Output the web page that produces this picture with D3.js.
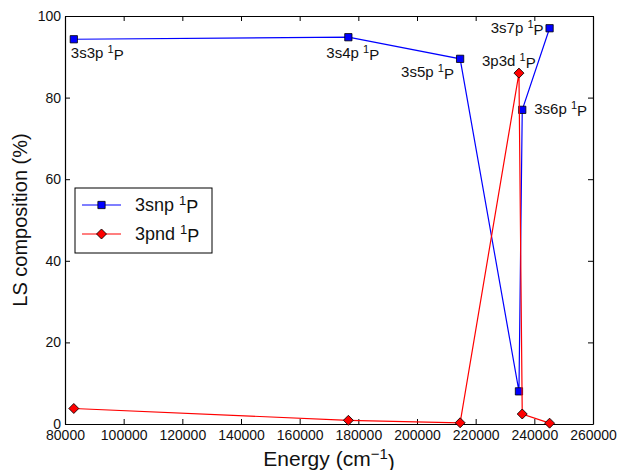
<!DOCTYPE html>
<html>
<head>
<meta charset="utf-8">
<script src="https://cdn.jsdelivr.net/npm/d3@7"></script>
<style>
  body { margin: 0; background: #fff; }
  svg { font-family: "Liberation Sans", Arial, Helvetica, sans-serif; }
</style>
</head>
<body>
<div id="chart"></div>
<script>
// energies of the levels (cm-1)
var energies = [83000, 176600, 214700, 234760, 235880, 245200];
// LS composition (%) of each series
var snpValues = [94.3, 94.8, 89.5, 8.0, 77.0, 97.0];
var pndValues = [3.8, 0.9, 0.3, 86.0, 2.45, 0.2];
// level labels: [series, index, main text]
var levelLabels = [
    ["snp", 0, "3s3p"], ["snp", 1, "3s4p"], ["snp", 2, "3s5p"],
    ["pnd", 3, "3p3d"], ["snp", 4, "3s6p"], ["snp", 5, "3s7p"]
];
var xTicks = [80000, 100000, 120000, 140000, 160000, 180000, 200000, 220000, 240000, 260000];
var yTicks = [0, 20, 40, 60, 80, 100];
var seriesNames = ["3snp", "3pnd"];

// label offsets from their marker (px), kept apart from the data
var labelOffsets = [[-3, 19, "start"], [-22, 21, "start"], [-59, 18, "start"],
                    [-37, -7, "start"], [12, 4, "start"], [-6, 5, "end"]];

var width = 617, height = 470;
var plot = { left: 65, right: 593, top: 16, bottom: 424 };

var svg = d3.select("#chart").append("svg")
    .attr("width", width)
    .attr("height", height);

var x = d3.scaleLinear().domain([80000, 260000]).range([plot.left, plot.right]);
var y = d3.scaleLinear().domain([0, 100]).range([plot.bottom, plot.top]);

// axes, ticks pointing inward on all four sides
function styleAxis(g) {
    g.selectAll("path").attr("stroke", "#000").attr("stroke-width", 1.2);
    g.selectAll("line").attr("stroke", "#000").attr("stroke-width", 1);
    g.selectAll("text").attr("fill", "#111").style("font-size", "14px");
}

svg.append("g")
    .attr("transform", "translate(0," + plot.bottom + ")")
    .call(d3.axisBottom(x).tickValues(xTicks).tickSize(-5).tickPadding(6).tickSizeOuter(0).tickFormat(d3.format("d")))
    .call(styleAxis);

svg.append("g")
    .attr("transform", "translate(0," + plot.top + ")")
    .call(d3.axisTop(x).tickValues(xTicks).tickSize(-5).tickSizeOuter(0).tickFormat(""))
    .call(styleAxis);

svg.append("g")
    .attr("transform", "translate(" + plot.left + ",0)")
    .call(d3.axisLeft(y).tickValues(yTicks).tickSize(-5).tickPadding(4).tickSizeOuter(0))
    .call(styleAxis);

svg.append("g")
    .attr("transform", "translate(" + plot.right + ",0)")
    .call(d3.axisRight(y).tickValues(yTicks).tickSize(-5).tickSizeOuter(0).tickFormat(""))
    .call(styleAxis);

// axis titles
var xTitle = svg.append("text")
    .attr("x", (plot.left + plot.right) / 2)
    .attr("y", 466)
    .attr("text-anchor", "middle")
    .style("font-size", "21px")
    .attr("fill", "#111");
xTitle.append("tspan").text("Energy (cm");
xTitle.append("tspan").attr("dy", "-0.45em").style("font-size", "15px").text("\u22121");
xTitle.append("tspan").attr("dy", "0.45em").text(")");

svg.append("text")
    .attr("transform", "translate(27," + ((plot.top + plot.bottom) / 2) + ") rotate(-90)")
    .attr("text-anchor", "middle")
    .style("font-size", "20px")
    .attr("fill", "#111")
    .text("LS composition (%)");

// series data; diamonds are squares turned by 45 degrees
var series = [
    { key: "snp", values: snpValues, color: "#0000ff", size: 53, rot: 0 },
    { key: "pnd", values: pndValues, color: "#ff0000", size: 50, rot: 45 }
];

var line = d3.line()
    .x(function(d) { return x(d[0]); })
    .y(function(d) { return y(d[1]); });

series.forEach(function(s) {
    var pts = energies.map(function(e, i) { return [e, s.values[i]]; });

    svg.append("path")
        .datum(pts)
        .attr("d", line)
        .attr("fill", "none")
        .attr("stroke", s.color)
        .attr("stroke-width", 1.2);

    svg.selectAll("path.m-" + s.key)
        .data(pts)
        .enter().append("path")
        .attr("class", "m-" + s.key)
        .attr("d", d3.symbol().type(d3.symbolSquare).size(s.size))
        .attr("transform", function(d) { return "translate(" + x(d[0]) + "," + y(d[1]) + ") rotate(" + s.rot + ")"; })
        .attr("fill", s.color)
        .attr("stroke", "#000")
        .attr("stroke-width", 0.8);
});

// level labels
function addTermLabel(sel, main, supSize) {
    sel.append("tspan").text(main + " ");
    sel.append("tspan").attr("dy", "-0.45em").style("font-size", supSize).text("1");
    sel.append("tspan").attr("dy", "0.45em").text("P");
}

levelLabels.forEach(function(l, i) {
    var vals = l[0] == "snp" ? snpValues : pndValues;
    var off = labelOffsets[i];
    var t = svg.append("text")
        .attr("x", x(energies[l[1]]) + off[0])
        .attr("y", y(vals[l[1]]) + off[1])
        .attr("text-anchor", off[2])
        .style("font-size", "15px")
        .attr("fill", "#111");
    addTermLabel(t, l[2], "11px");
});

// legend
var legend = svg.append("g").attr("transform", "translate(75,188)");
legend.append("rect")
    .attr("width", 137)
    .attr("height", 65)
    .attr("fill", "#fff")
    .attr("stroke", "#000")
    .attr("stroke-width", 1);

series.forEach(function(s, i) {
    var row = legend.append("g").attr("transform", "translate(0," + (17 + i * 29) + ")");
    row.append("line")
        .attr("x1", 7).attr("x2", 46)
        .attr("stroke", s.color).attr("stroke-width", 1.2);
    row.append("path")
        .attr("d", d3.symbol().type(d3.symbolSquare).size(s.size))
        .attr("transform", "translate(26.5,0) rotate(" + s.rot + ")")
        .attr("fill", s.color)
        .attr("stroke", "#000")
        .attr("stroke-width", 0.8);
    var t = row.append("text")
        .attr("x", 60)
        .attr("y", 6)
        .style("font-size", "18px")
        .attr("fill", "#111");
    addTermLabel(t, seriesNames[i], "13px");
});
</script>
</body>
</html>
